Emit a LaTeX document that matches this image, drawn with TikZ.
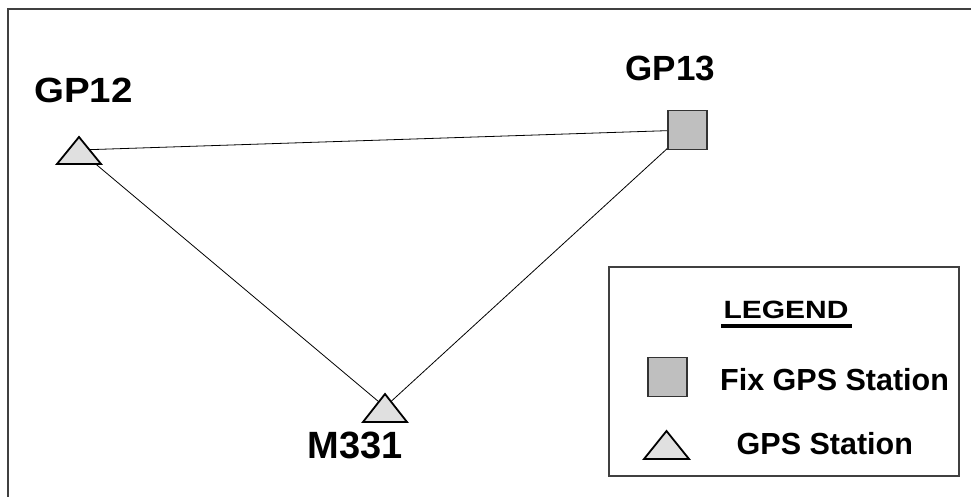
\documentclass[tikz,border=0pt]{standalone}
\usepackage{fontspec}
\usepackage{graphicx}
\setmainfont{Liberation Sans}
\begin{document}
\begin{tikzpicture}[x=1pt,y=-1pt,
  conn/.style={draw=black,line width=0.8pt},
  tri/.style={draw=black,line width=1.8pt,fill=black!12,line join=miter},
  fixsq/.style={draw=black!80,line width=1.3pt,fill=black!25,minimum width=39pt,minimum height=39pt,inner sep=0pt},
  lbl/.style={font=\bfseries\fontsize{35}{40}\selectfont,inner sep=0pt,anchor=base},
  legtxt/.style={font=\bfseries\fontsize{30.5}{35}\selectfont,inner sep=0pt,anchor=base west}]
\useasboundingbox (0,0) rectangle (971,497);
\fill[white] (0,0) rectangle (971,497);
% outer frame (right and bottom sides outside the picture)
\draw[black!75,line width=2pt] (8,9) rectangle (990,510);
% station centres
\coordinate (gp12) at (79,150);
\node[fixsq] (gp13) at (687.5,130) {};
\coordinate (m331) at (385,407);
% connectors
\draw[conn] (gp12) -- (gp13.center);
\draw[conn] (gp12) -- (m331);
\draw[conn] (gp13.center) -- (m331);
% shapes
\draw[tri] (57,164) -- (79,137) -- (101,164) -- cycle;
\draw[tri] (363,422) -- (385,394) -- (407,422) -- cycle;
\node[fixsq] at (gp13) {};
% labels
\node[lbl] (l12) at (83.5,103) {\scalebox{1.1}[1]{GP12}};
\node[lbl] (l13) at (670.5,81) {GP13};
\node[lbl,font=\bfseries\fontsize{38}{44}\selectfont] (l331) at (355,458) {M331};
% legend
\node[draw=black!75,line width=1.3pt,minimum width=350pt,minimum height=209pt,inner sep=0pt] (legend) at (784,371.5) {};
\node[font=\bfseries\fontsize{25}{30}\selectfont,inner sep=0pt,anchor=base] (legt) at (786,318) {\scalebox{1.2}[1]{LEGEND}};
\draw[line width=4pt] (721,325.5) -- (851.5,325.5);
\node[fixsq] (legsq) at (667.5,377) {};
\node[legtxt] (legfix) at (720,390) {Fix GPS Station};
\draw[tri] (644,459) -- (666.5,431) -- (689,459) -- cycle;
\node[legtxt] (leggps) at (736.5,454) {GPS Station};
\end{tikzpicture}
\end{document}
